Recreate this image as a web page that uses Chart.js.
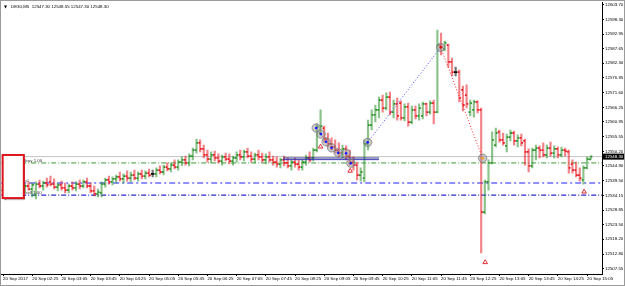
<!DOCTYPE html>
<html>
<head>
<meta charset="utf-8">
<script src="https://cdn.jsdelivr.net/npm/chart.js@4.4.1/dist/chart.umd.min.js"></script>
<style>
  html, body { margin: 0; padding: 0; background: #fff; }
</style>
</head>
<body>
<canvas id="chart" width="625" height="286"></canvas>
<script>
// DE30 M5 bars, 20 Sep 2017 (prices)
const symbolTitle = 'DE30,M5  12547.30 12548.55 12547.30 12548.30';

const opens = [
  12536.1, 12536.9, 12535.8, 12536.5, 12537.6, 12536.9, 12536.1, 12537.6, 12536.5, 12534.3,
  12538.3, 12537.6, 12538.7, 12539.1, 12538.3, 12537.2, 12538.0, 12536.9, 12536.1, 12537.6,
  12536.9, 12538.3, 12537.6, 12539.1, 12537.6, 12535.8, 12534.7, 12535.1, 12538.3, 12539.8,
  12539.1, 12540.2, 12540.9, 12540.2, 12541.2, 12540.5, 12541.6, 12540.5, 12542.0, 12541.2,
  12542.3, 12542.0, 12542.0, 12543.4, 12542.7, 12544.5, 12543.8, 12545.2, 12544.5, 12546.3,
  12547.1, 12546.0, 12548.5, 12550.7, 12553.3, 12551.1, 12548.9, 12547.4, 12548.9, 12547.8,
  12546.7, 12548.2, 12547.4, 12546.7, 12547.8, 12548.9, 12548.2, 12550.0, 12548.5, 12547.4,
  12548.9, 12548.2, 12547.1, 12548.2, 12547.1, 12546.3, 12545.6, 12547.1, 12546.0, 12544.9,
  12546.3, 12545.6, 12544.5, 12546.3, 12547.8, 12547.8, 12550.7, 12556.9, 12558.7, 12554.7,
  12552.9, 12551.8, 12550.7, 12549.6, 12551.1, 12548.5, 12546.3, 12545.2, 12541.6, 12540.5,
  12552.9, 12559.8, 12563.5, 12565.3, 12568.9, 12566.0, 12570.0, 12564.5, 12567.5, 12567.8,
  12562.4, 12566.4, 12560.9, 12565.3, 12563.1, 12563.1, 12567.5, 12564.5, 12567.8, 12564.5,
  12588.9, 12587.5, 12588.9, 12582.8, 12579.1, 12579.1, 12572.6, 12570.7, 12564.5, 12565.3,
  12568.2, 12565.3, 12528.1, 12539.1, 12546.0, 12552.5, 12557.3, 12554.4, 12552.2, 12555.4,
  12556.9, 12554.0, 12555.1, 12554.0, 12550.0, 12544.9, 12550.7, 12551.4, 12550.7, 12548.9,
  12551.4, 12549.6, 12551.1, 12548.9, 12550.7, 12550.0, 12545.6, 12543.4, 12541.6, 12539.8,
  12544.2, 12547.3
];
const highs = [
  12537.6, 12538.0, 12537.2, 12538.3, 12538.7, 12538.0, 12538.3, 12539.1, 12538.7, 12539.1,
  12539.8, 12539.4, 12540.5, 12541.2, 12540.2, 12538.7, 12539.4, 12538.7, 12538.3, 12539.1,
  12539.1, 12539.8, 12539.8, 12540.5, 12538.7, 12537.6, 12536.5, 12539.1, 12540.5, 12541.2,
  12540.9, 12541.6, 12542.7, 12542.0, 12543.1, 12542.7, 12543.4, 12542.7, 12543.4, 12543.1,
  12543.8, 12543.4, 12544.2, 12544.9, 12545.2, 12546.0, 12546.0, 12547.1, 12547.1, 12548.2,
  12548.5, 12549.3, 12551.4, 12554.7, 12554.4, 12552.5, 12550.7, 12550.0, 12550.3, 12549.3,
  12548.9, 12549.6, 12549.3, 12548.5, 12550.0, 12550.7, 12550.7, 12551.4, 12550.0, 12549.6,
  12550.7, 12549.6, 12549.3, 12550.0, 12548.5, 12548.2, 12547.8, 12548.5, 12547.8, 12547.1,
  12547.8, 12547.1, 12547.1, 12548.9, 12550.0, 12551.4, 12560.2, 12565.3, 12559.4, 12556.9,
  12555.1, 12554.4, 12553.3, 12552.5, 12552.2, 12550.7, 12548.2, 12546.3, 12544.2, 12554.4,
  12561.6, 12565.3, 12567.1, 12570.0, 12570.7, 12571.5, 12571.8, 12568.9, 12569.6, 12568.6,
  12567.5, 12567.8, 12566.7, 12566.7, 12567.5, 12568.2, 12567.8, 12568.6, 12568.9, 12594.4,
  12593.3, 12590.4, 12589.3, 12584.2, 12580.9, 12579.8, 12574.0, 12574.4, 12568.9, 12568.9,
  12568.6, 12566.0, 12539.8, 12547.1, 12557.3, 12558.7, 12558.0, 12556.9, 12556.5, 12558.0,
  12557.6, 12556.2, 12556.5, 12554.7, 12551.1, 12551.4, 12552.5, 12552.2, 12553.3, 12552.5,
  12553.6, 12552.2, 12551.8, 12551.8, 12551.4, 12550.7, 12547.1, 12546.3, 12544.2, 12544.9,
  12548.2, 12548.55
];
const lows = [
  12534.7, 12535.4, 12534.3, 12535.1, 12536.1, 12535.4, 12535.1, 12536.1, 12533.6, 12532.9,
  12536.9, 12536.1, 12537.2, 12537.6, 12536.5, 12535.8, 12536.1, 12535.1, 12535.1, 12536.1,
  12535.8, 12536.5, 12536.9, 12536.9, 12535.1, 12534.0, 12533.6, 12533.6, 12537.2, 12538.3,
  12538.0, 12538.7, 12539.4, 12538.7, 12539.4, 12539.1, 12539.8, 12539.4, 12540.2, 12540.2,
  12540.9, 12540.9, 12540.9, 12542.0, 12541.6, 12543.1, 12542.7, 12543.8, 12543.4, 12544.9,
  12545.2, 12544.9, 12547.1, 12549.6, 12550.0, 12547.8, 12546.3, 12546.0, 12546.7, 12546.0,
  12545.2, 12546.7, 12545.6, 12545.2, 12546.3, 12547.1, 12546.7, 12547.8, 12546.3, 12546.0,
  12547.1, 12546.3, 12545.6, 12546.3, 12545.2, 12544.5, 12544.2, 12544.9, 12544.2, 12543.4,
  12544.5, 12543.4, 12543.4, 12545.2, 12546.3, 12546.7, 12550.0, 12556.2, 12553.6, 12551.8,
  12550.7, 12549.6, 12548.2, 12547.8, 12547.1, 12545.2, 12543.4, 12539.8, 12539.4, 12539.1,
  12550.7, 12558.0, 12560.9, 12562.4, 12564.5, 12565.3, 12563.5, 12562.4, 12561.6, 12561.6,
  12561.3, 12559.4, 12560.2, 12562.0, 12561.6, 12562.0, 12563.1, 12563.8, 12560.2, 12564.2,
  12585.3, 12586.8, 12580.9, 12577.7, 12577.7, 12568.2, 12564.9, 12566.0, 12563.1, 12562.7,
  12564.2, 12513.2, 12527.4, 12536.1, 12545.6, 12551.8, 12553.6, 12552.5, 12550.0, 12554.0,
  12552.5, 12551.8, 12552.2, 12545.2, 12542.7, 12544.2, 12547.1, 12547.8, 12548.2, 12547.8,
  12548.5, 12547.8, 12547.8, 12548.2, 12548.5, 12542.3, 12542.3, 12540.9, 12539.4, 12538.3,
  12543.8, 12547.3
];
const closes = [
  12536.9, 12535.8, 12536.5, 12537.6, 12536.9, 12536.1, 12537.6, 12536.5, 12538.0, 12538.3,
  12537.6, 12538.7, 12538.0, 12538.3, 12537.2, 12538.0, 12536.9, 12536.1, 12537.6, 12536.9,
  12538.3, 12537.6, 12539.1, 12537.6, 12535.8, 12534.7, 12535.4, 12538.3, 12539.8, 12539.1,
  12540.2, 12540.9, 12540.2, 12541.2, 12540.5, 12541.6, 12540.5, 12542.0, 12541.2, 12542.3,
  12541.6, 12542.0, 12543.4, 12542.7, 12544.5, 12543.8, 12545.2, 12544.5, 12546.3, 12547.1,
  12546.0, 12548.5, 12550.7, 12553.3, 12551.1, 12548.9, 12547.4, 12548.9, 12547.8, 12546.7,
  12548.2, 12547.4, 12546.7, 12547.8, 12548.9, 12548.2, 12550.0, 12548.5, 12547.4, 12548.9,
  12548.2, 12547.1, 12548.2, 12547.1, 12546.3, 12545.6, 12547.1, 12546.0, 12544.9, 12546.3,
  12545.6, 12544.5, 12546.3, 12547.8, 12547.1, 12550.7, 12559.1, 12559.4, 12554.7, 12552.9,
  12551.8, 12550.7, 12549.6, 12551.1, 12548.5, 12546.3, 12545.2, 12541.6, 12542.7, 12552.9,
  12559.8, 12563.5, 12565.3, 12568.9, 12566.0, 12570.0, 12564.5, 12567.5, 12563.1, 12562.4,
  12566.4, 12560.9, 12565.3, 12563.1, 12566.0, 12567.5, 12564.5, 12567.8, 12564.5, 12588.9,
  12588.2, 12589.7, 12582.8, 12579.1, 12579.1, 12569.6, 12567.1, 12567.5, 12567.8, 12568.2,
  12565.3, 12528.1, 12539.1, 12546.0, 12554.4, 12556.9, 12554.4, 12553.3, 12555.4, 12556.9,
  12554.0, 12555.1, 12553.3, 12550.0, 12544.9, 12550.7, 12551.4, 12550.7, 12548.9, 12551.4,
  12549.6, 12551.1, 12548.9, 12550.7, 12550.3, 12544.2, 12543.4, 12541.6, 12540.5, 12544.2,
  12547.4, 12548.3
];

// time axis: one label every 8 bars
const timeTickIdx = [0, 8, 16, 24, 32, 40, 48, 56, 64, 72, 80, 88, 96, 104, 112, 120, 128, 136, 144, 152, 160];
const timeLabels = [
  '20 Sep 2017', '20 Sep 02:25', '20 Sep 03:05', '20 Sep 03:45', '20 Sep 04:25', '20 Sep 05:05',
  '20 Sep 05:45', '20 Sep 06:25', '20 Sep 07:05', '20 Sep 07:45', '20 Sep 08:25', '20 Sep 09:05',
  '20 Sep 09:45', '20 Sep 10:25', '20 Sep 11:05', '20 Sep 11:45', '20 Sep 12:25', '20 Sep 13:05',
  '20 Sep 13:45', '20 Sep 14:25', '20 Sep 15:05'
];
const priceTicks = [
  12603.70, 12598.30, 12592.95, 12587.65, 12582.30, 12576.95, 12571.60, 12566.25, 12560.95, 12555.55,
  12550.20, 12544.90, 12539.50, 12534.15, 12528.85, 12523.50, 12518.20, 12512.80, 12507.55
];

// trade levels
const levelNames = ['buy 1.00', 'sl', 'sell 1.00'];
const levelPrices = [12546.0, 12538.7, 12534.3];
const bandPrices = [12547.8, 12547.2];
const bandIdx = [76.7, 103];

// trade markers (bar index, price)
const tradeIdx = [85.8, 87.1, 88.5, 90.0, 91.8, 94.0, 95.3, 99.9, 119.9, 131.4];
const tradePrice = [12558.7, 12556.5, 12553.7, 12551.5, 12549.7, 12549.5, 12545.9, 12553.5, 12588.1, 12547.7];
const arrowIdx = [87.0, 95.1, 132.1, 159.2];
const arrowPrice = [12551.9, 12543.1, 12509.8, 12535.5];

// rectangle object at the left edge
const boxIdx = [-0.1, 5.7];
const boxPrice = [12548.9, 12533.2];

const X_MIN = -0.5, X_MAX = 164.1;
const Y_MIN = 12505.55, Y_MAX = 12604.61;
const FONT_FAMILY = '"Liberation Sans", Arial, sans-serif';
const FONT_SIZE = 4.4;

const UP = [45, 145, 45], DOWN = [232, 30, 38], FLAT = [0, 0, 0];
const rgba = (c, a) => 'rgba(' + c[0] + ',' + c[1] + ',' + c[2] + ',' + a + ')';

const bars = opens.map((o, i) => i);
const dir = bars.map(i => closes[i] > opens[i] ? UP : (closes[i] < opens[i] ? DOWN : FLAT));
const lastPrice = closes[closes.length - 1];

function hline(price, color, width, dash, order, x0, x1) {
  return {
    type: 'line',
    data: [{x: x0 === undefined ? X_MIN : x0, y: price}, {x: x1 === undefined ? X_MAX : x1, y: price}],
    borderColor: color, borderWidth: width, borderDash: dash || [],
    pointRadius: 0, fill: false, order: order
  };
}

const overlay = {
  id: 'overlay',
  afterDatasetsDraw(chart) {
    const {ctx, scales: {x, y}} = chart;
    const l = x.getPixelForValue(boxIdx[0]), r = x.getPixelForValue(boxIdx[1]);
    const t = y.getPixelForValue(boxPrice[0]), b = y.getPixelForValue(boxPrice[1]);
    ctx.save();
    ctx.shadowColor = 'rgba(0,0,0,0.5)';
    ctx.shadowOffsetX = 1.5;
    ctx.shadowOffsetY = 1.5;
    ctx.shadowBlur = 1;
    ctx.fillStyle = '#fff';
    ctx.fillRect(l, t, r - l, b - t);
    ctx.shadowColor = 'rgba(0,0,0,0)';
    ctx.strokeStyle = '#e0141e';
    ctx.lineWidth = 2;
    ctx.strokeRect(l, t, r - l, b - t);

    ctx.font = FONT_SIZE + 'px ' + FONT_FAMILY;
    ctx.fillStyle = '#303030';
    ctx.textBaseline = 'bottom';
    ctx.textAlign = 'left';
    levelNames.forEach((n, k) => {
      ctx.fillText(n, r + 1.5, y.getPixelForValue(levelPrices[k]) - 0.3);
    });
    ctx.restore();
  },
  afterDraw(chart) {
    const {ctx, scales: {x, y}} = chart;
    ctx.save();
    // current price tag on the price scale
    const py = y.getPixelForValue(lastPrice);
    ctx.fillStyle = '#000';
    ctx.fillRect(x.right + 1, py - 3, chart.width - x.right - 2, 6);
    ctx.fillStyle = '#fff';
    ctx.font = FONT_SIZE + 'px ' + FONT_FAMILY;
    ctx.textBaseline = 'middle';
    ctx.textAlign = 'left';
    ctx.fillText(lastPrice.toFixed(2), x.right + 3, py + 0.3);

    // title
    ctx.fillStyle = '#000';
    ctx.font = '4px "DejaVu Sans", sans-serif';
    ctx.fillText('\u25BC', 4, 7);
    ctx.font = FONT_SIZE + 'px ' + FONT_FAMILY;
    ctx.fillText(symbolTitle, 11, 7);

    // window frame
    ctx.strokeStyle = '#9a9a9a';
    ctx.lineWidth = 1;
    ctx.strokeRect(0.5, 0.5, chart.width - 1, chart.height - 1);
    ctx.restore();
  }
};

new Chart(document.getElementById('chart'), {
  type: 'bar',
  data: {
    datasets: [
      hline(lastPrice, '#c4c4c4', 1, [], 12),
      hline(levelPrices[0], '#3a9a3a', 1, [5, 2, 1, 2], 11),
      hline(levelPrices[1], '#8f8fff', 2, [6, 3, 2, 3], 11),
      hline(levelPrices[2], '#2a2ad0', 1.2, [5, 2, 1, 2], 11),
      {
        type: 'bar',
        data: bars.map(i => ({x: i, y: [lows[i], highs[i]]})),
        backgroundColor: dir.map(c => rgba(c, 0.55)),
        barThickness: 1.5, grouped: false, order: 9
      },
      {
        type: 'scatter',
        data: bars.map(i => ({x: i - 0.22, y: opens[i]})),
        pointStyle: 'rect', pointRadius: 1.25, pointBorderWidth: 0,
        pointBackgroundColor: dir.map(c => rgba(c, 1)), order: 8
      },
      {
        type: 'scatter',
        data: bars.map(i => ({x: i + 0.22, y: closes[i]})),
        pointStyle: 'rect', pointRadius: 1.25, pointBorderWidth: 0,
        pointBackgroundColor: dir.map(c => rgba(c, 1)), order: 8
      },
      hline(bandPrices[0], '#1c1c7a', 0.9, [], 7, bandIdx[0], bandIdx[1]),
      hline(bandPrices[1], '#2626b0', 0.9, [], 7, bandIdx[0], bandIdx[1]),
      {
        type: 'line',
        data: tradeIdx.slice(0, 7).map((v, k) => ({x: v, y: tradePrice[k]})),
        borderColor: 'rgba(230,60,60,0.7)', borderWidth: 1, borderDash: [1, 1.5],
        pointRadius: 0, fill: false, order: 6
      },
      {
        type: 'line',
        data: [{x: tradeIdx[7], y: tradePrice[7]}, {x: tradeIdx[8], y: tradePrice[8]}],
        borderColor: '#4646ff', borderWidth: 1, borderDash: [1, 2],
        pointRadius: 0, fill: false, order: 6
      },
      {
        type: 'line',
        data: [{x: tradeIdx[8], y: tradePrice[8]}, {x: tradeIdx[9], y: tradePrice[9]}],
        borderColor: '#ff2a2a', borderWidth: 1, borderDash: [1, 2],
        pointRadius: 0, fill: false, order: 6
      },
      {
        type: 'scatter',
        data: tradeIdx.map((v, k) => ({x: v, y: tradePrice[k]})),
        pointRadius: 4.2, pointBorderWidth: 1,
        pointBackgroundColor: 'rgba(150,150,150,0.5)', pointBorderColor: 'rgba(120,120,120,0.7)',
        order: 5
      },
      {
        type: 'scatter',
        data: tradeIdx.map((v, k) => ({x: v, y: tradePrice[k]})),
        pointRadius: 1.3, pointBorderWidth: 0,
        pointBackgroundColor: tradeIdx.map((v, k) => k === 8 ? '#e01010' : (k === 9 ? '#f0a020' : '#1a1aff')),
        order: 4
      },
      {
        type: 'scatter',
        data: arrowIdx.map((v, k) => ({x: v, y: arrowPrice[k]})),
        pointStyle: 'triangle', pointRadius: 2.6, pointBorderWidth: 0.9,
        pointBackgroundColor: '#fff', pointBorderColor: '#e0141e',
        order: 3
      }
    ]
  },
  options: {
    responsive: false,
    animation: false,
    devicePixelRatio: 1,
    events: [],
    layout: {autoPadding: false, padding: {left: 1.2, top: 2, right: 0, bottom: 0}},
    plugins: {legend: {display: false}, tooltip: {enabled: false}, title: {display: false}},
    scales: {
      x: {
        type: 'linear', min: X_MIN, max: X_MAX, offset: false,
        afterBuildTicks: s => { s.ticks = timeTickIdx.map(v => ({value: v})); },
        afterFit: s => { s.height = 12; s.paddingLeft = 0; s.paddingRight = 0; },
        ticks: {
          autoSkip: false, maxRotation: 0, minRotation: 0, align: 'start', padding: 0.5,
          color: '#000', font: {family: FONT_FAMILY, size: FONT_SIZE},
          callback: (v, idx) => timeLabels[idx]
        },
        grid: {drawOnChartArea: false, offset: false, tickLength: 2, color: '#000'},
        border: {color: '#000', width: 1}
      },
      y: {
        position: 'right', min: Y_MIN, max: Y_MAX,
        afterBuildTicks: s => { s.ticks = priceTicks.map(v => ({value: v})); },
        afterFit: s => { s.width = 23; s.paddingTop = 0; s.paddingBottom = 0; },
        ticks: {
          padding: 1, color: '#000', font: {family: FONT_FAMILY, size: FONT_SIZE},
          callback: v => v.toFixed(2)
        },
        grid: {drawOnChartArea: false, tickLength: 2, color: '#000'},
        border: {color: '#000', width: 1}
      }
    }
  },
  plugins: [overlay]
});
</script>
</body>
</html>
